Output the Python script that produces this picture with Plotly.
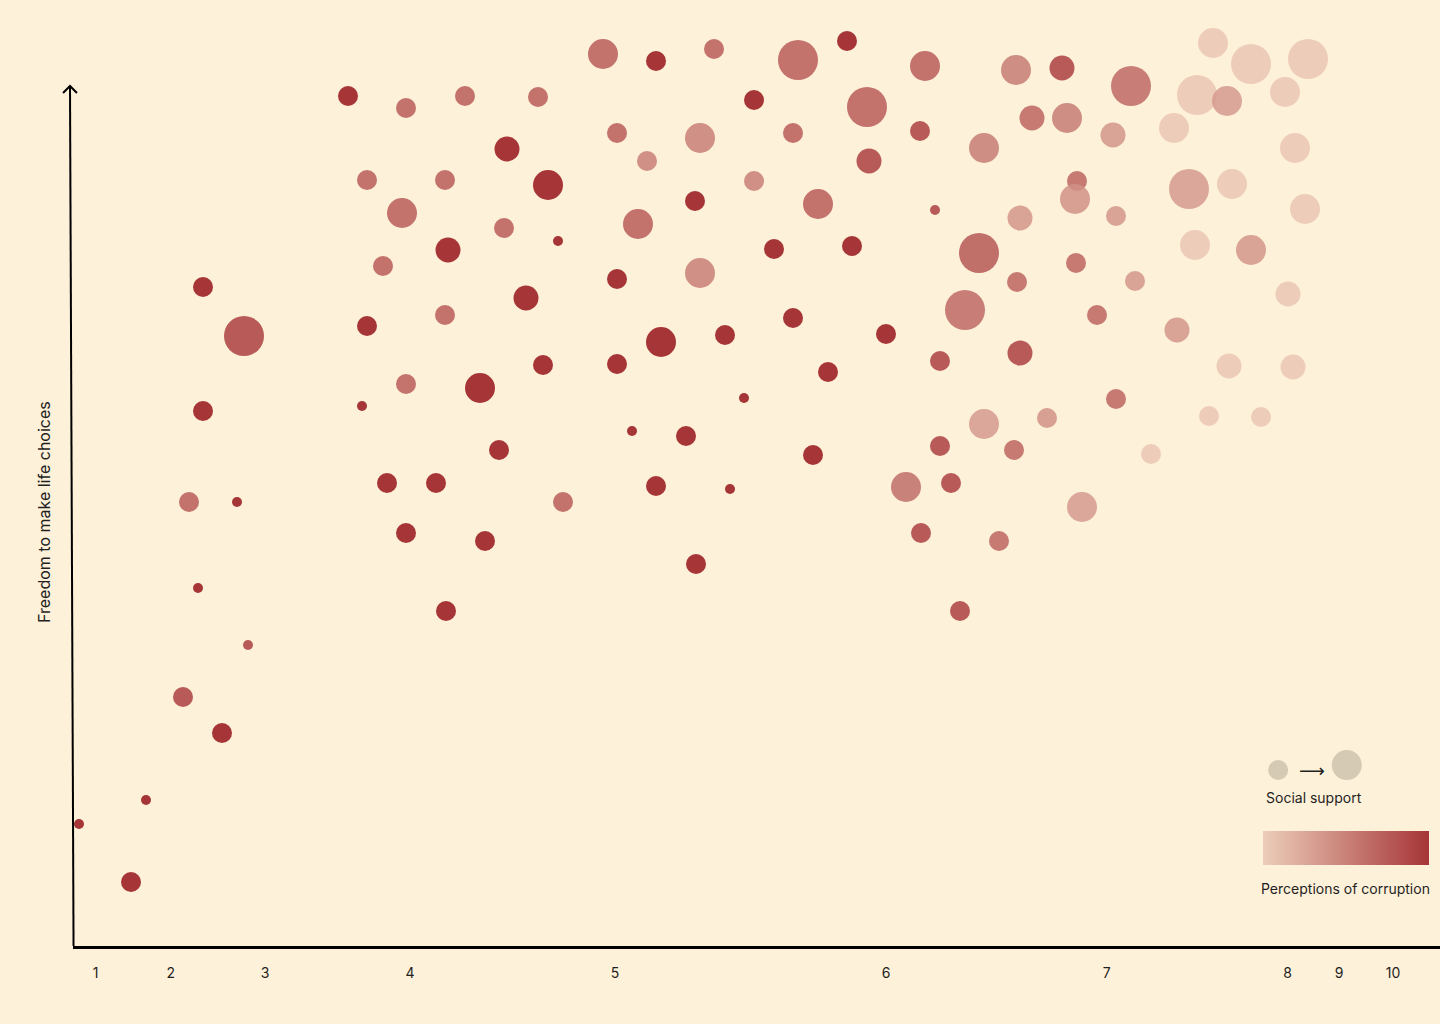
import plotly.graph_objects as go

# ---------------- data ----------------
# position along the horizontal axis (axis units)
x_pos = [34.8, 40.6, 46.5, 50.7, 36.7, 44.5, 40.2, 50.4, 44.8, 38.3, 52.6, 20.3, 24.4, 36.7, 44.5, 40.6, 48.0,
         36.2, 20.3, 49.9, 38.7, 43.6, 18.9, 23.7, 40.6, 48.5, 19.8, 44.6, 24.8, 18.3, 22.2, 14.6, 7.9, 13.1,
         60.3, 65.6, 71.4, 79.8, 84.7, 92.5, 53.8, 75.4, 86.7, 61.7, 70.0, 79.3, 92.0, 64.7, 86.9, 54.8, 75.4,
         69.5, 81.8, 93.5, 63.8, 55.8, 77.4, 85.2, 61.7, 70.0, 79.3, 66.1, 72.5, 88.6, 94.0, 54.3, 61.7, 82.8,
         74.4, 63.2, 68.6, 81.3, 94.0, 65.6, 73.0, 56.3, 90.6, 95.1, 92.1, 69.6, 96.0,
         102.0, 122.9, 129.3, 111.6, 120.9, 126.1, 98.4, 104.7, 101.4, 115.1, 108.2, 99.9,
         121.3, 125.1, 130.8, 101.6, 106.2, 113.1, 119.7, 122.7, 128.5, 103.2, 106.7, 111.3, 117.4, 98.4,
         129.5, 107.7, 107.5, 118.9, 123.2, 130.5, 102.0, 111.6, 97.9, 119.5, 125.1, 101.7, 107.6, 113.5,
         128.8, 96.5, 109.7, 117.7]

# freedom to make life choices (axis units)
freedom = [84.9, 83.7, 84.9, 79.6, 76.5, 76.5, 73.2, 71.7, 69.5, 67.9, 64.7, 65.8, 60.9, 61.9, 63.0, 56.1, 55.7,
           53.9, 53.4, 49.5, 46.2, 46.2, 44.3, 44.3, 41.2, 40.4, 35.7, 33.4, 30.0, 24.8, 21.2, 14.5, 12.1, 6.3,
           89.1, 88.4, 89.6, 88.5, 90.4, 87.9, 84.8, 84.5, 83.8, 81.2, 80.7, 81.2, 81.4, 78.4, 78.4, 76.0, 76.4,
           74.4, 74.1, 73.5, 72.1, 70.4, 69.6, 69.9, 66.6, 67.2, 62.7, 60.3, 61.0, 61.1, 58.4, 58.0, 58.1, 57.3,
           54.7, 51.4, 50.9, 49.0, 49.9, 45.9, 45.6, 44.3, 45.8, 46.2, 41.2, 38.1, 33.4,
           59.2, 57.9, 57.8, 54.6, 52.9, 52.8, 52.1, 52.7, 49.5, 49.1, 43.8, 40.4,
           90.2, 88.1, 88.6, 87.5, 87.7, 85.9, 85.0, 84.4, 85.3, 82.7, 82.7, 81.0, 81.7, 79.7,
           79.7, 76.4, 74.6, 75.6, 76.1, 73.6, 72.7, 72.9, 69.2, 70.0, 69.5, 66.3, 68.2, 66.4,
           65.1, 63.5, 63.0, 61.5]

social_support = [0.6, 0.6, 0.6, 0.7, 0.6, 0.6, 0.8, 0.6, 0.7, 0.6, 0.7, 0.6, 1.0, 0.6, 0.6, 0.6, 0.8,
                  0.4, 0.6, 0.6, 0.6, 0.6, 0.6, 0.4, 0.6, 0.6, 0.4, 0.6, 0.4, 0.6, 0.6, 0.4, 0.4, 0.6,
                  0.8, 0.6, 0.6, 1.0, 0.6, 0.8, 0.6, 0.6, 1.0, 0.6, 0.8, 0.6, 0.6, 0.6, 0.7, 0.8, 0.6,
                  0.6, 0.8, 0.4, 0.8, 0.4, 0.6, 0.6, 0.6, 0.8, 0.6, 0.8, 0.6, 0.6, 0.6, 0.6, 0.6, 0.6,
                  0.4, 0.4, 0.6, 0.6, 0.6, 0.6, 0.4, 0.6, 0.8, 0.6, 0.6, 0.6, 0.6,
                  0.7, 0.7, 0.7, 0.6, 0.6, 0.6, 0.8, 0.6, 0.6, 0.6, 0.8, 0.6,
                  0.8, 1.0, 1.0, 0.8, 0.7, 1.0, 1.0, 0.8, 0.8, 0.7, 0.8, 0.7, 0.8, 0.8,
                  0.8, 0.6, 0.8, 1.0, 0.8, 0.8, 0.7, 0.6, 1.0, 0.8, 0.8, 0.6, 0.6, 0.6,
                  0.7, 1.0, 0.6, 0.7]

corruption = [1.0, 0.6, 0.6, 1.0, 0.6, 0.6, 0.6, 0.6, 1.0, 0.6, 1.0, 1.0, 0.75, 1.0, 0.6, 0.6, 1.0,
              1.0, 1.0, 1.0, 1.0, 1.0, 0.6, 1.0, 1.0, 1.0, 1.0, 1.0, 0.75, 0.75, 1.0, 1.0, 1.0, 1.0,
              0.6, 1.0, 0.6, 0.6, 1.0, 0.6, 0.6, 1.0, 0.6, 0.6, 0.4, 0.6, 0.75, 0.4, 0.75, 1.0, 0.4,
              1.0, 0.6, 0.75, 0.6, 1.0, 1.0, 1.0, 1.0, 0.4, 1.0, 1.0, 1.0, 1.0, 0.75, 1.0, 1.0, 1.0,
              1.0, 1.0, 1.0, 1.0, 0.75, 1.0, 1.0, 0.6, 0.5, 0.75, 0.75, 1.0, 0.75,
              0.75, 0.0, 0.0, 0.55, 0.0, 0.0, 0.25, 0.3, 0.55, 0.0, 0.25, 0.55,
              0.0, 0.0, 0.0, 0.42, 0.75, 0.52, 0.0, 0.25, 0.0, 0.55, 0.42, 0.28, 0.0, 0.42,
              0.0, 0.55, 0.3, 0.25, 0.0, 0.0, 0.28, 0.28, 0.62, 0.0, 0.28, 0.55, 0.55, 0.28,
              0.0, 0.52, 0.55, 0.28]

tick_labels = ["1", "2", "3", "4", "5", "6", "7", "8", "9", "10"]
tick_positions = [9.57, 17.07, 26.5, 41.0, 61.5, 88.6, 110.67, 128.77, 133.9, 139.3]

legend_support = [0.6, 0.8]   # small -> large example in the size legend

# ---------------- styling ----------------
BG = "#FEF1D9"
FONT = "Inter, 'Open Sans', sans-serif"
TEXT = "#1f1f1f"
ALPHA = 0.85
colorscale = [[0.0, f"rgba(234,199,180,{ALPHA})"], [1.0, f"rgba(150,20,26,{ALPHA})"]]


def diameter(s):
    return 10 + (s - 0.4) * 50


fig = go.Figure()

fig.add_trace(go.Scatter(
    x=x_pos, y=freedom, mode="markers",
    marker=dict(
        size=[diameter(s) for s in social_support],
        sizemode="diameter",
        opacity=1,
        color=corruption, cmin=0, cmax=1,
        colorscale=colorscale,
        line=dict(width=0),
        showscale=True,
        colorbar=dict(
            orientation="h",
            x=0.9312, xanchor="center", xref="paper",
            y=0.1036, yanchor="middle", yref="paper",
            len=166, lenmode="pixels",
            thickness=34, thicknessmode="pixels",
            xpad=0, ypad=0,
            outlinewidth=0,
            ticks="", showticklabels=False,
        ),
    ),
    hoverinfo="skip",
    showlegend=False,
))

# size legend circles on an invisible overlay axis
fig.add_trace(go.Scatter(
    x=[0.8816, 0.9318], y=[0.1860, 0.1913], mode="markers",
    xaxis="x2", yaxis="y2",
    marker=dict(size=[diameter(s) for s in legend_support], sizemode="diameter",
                opacity=1, color="#D5CAB4", line=dict(width=0)),
    hoverinfo="skip", showlegend=False,
))

fig.update_layout(
    width=1440, height=1024,
    paper_bgcolor=BG, plot_bgcolor=BG,
    margin=dict(l=73, r=0, t=0, b=78),
    font=dict(family=FONT, size=14, color=TEXT),
    xaxis=dict(
        range=[7.3, 144.0], showgrid=False, zeroline=False,
        showline=True, linewidth=3, linecolor="#000000",
        tickmode="array", tickvals=tick_positions, ticktext=tick_labels,
        ticks="", ticklabelstandoff=12,
        tickfont=dict(family=FONT, size=14, color=TEXT),
        fixedrange=True,
    ),
    yaxis=dict(
        range=[-0.1, 94.5], showgrid=False, zeroline=False,
        showline=False, showticklabels=False, ticks="", fixedrange=True,
    ),
    xaxis2=dict(range=[0, 1], overlaying="x", anchor="y2", visible=False, fixedrange=True),
    yaxis2=dict(range=[0, 1], overlaying="y", anchor="x2", visible=False, fixedrange=True),
    shapes=[
        # slanted vertical axis line
        dict(type="line", xref="paper", yref="paper", x0=0.0004, y0=0.0, x1=-0.0022, y1=0.9091,
             line=dict(color="#000000", width=2)),
        # arrow head
        dict(type="path", xref="paper", yref="paper",
             path="M -0.0073 0.9017 L -0.0022 0.9091 L 0.0029 0.9017",
             line=dict(color="#000000", width=2)),
    ],
    annotations=[
        dict(text="Freedom to make life choices", xref="paper", yref="paper",
             x=-0.0212, y=0.4588, textangle=-90, showarrow=False,
             xanchor="center", yanchor="middle", font=dict(size=16, color=TEXT, family=FONT)),
        dict(text="⟶", xref="paper", yref="paper", x=0.9067, y=0.1860, showarrow=False,
             xanchor="center", yanchor="middle", font=dict(size=18, color=TEXT, family="DejaVu Sans")),
        dict(text="Social support", xref="paper", yref="paper", x=0.9078, y=0.1575, showarrow=False,
             xanchor="center", yanchor="middle", font=dict(size=14, color=TEXT, family=FONT)),
        dict(text="Perceptions of corruption", xref="paper", yref="paper", x=0.9312, y=0.0603,
             showarrow=False, xanchor="center", yanchor="middle",
             font=dict(size=14, color=TEXT, family=FONT)),
    ],
)

fig.write_html(
    "out.html",
    config={"displayModeBar": False, "staticPlot": False},
    post_script="document.body.style.margin='0';document.body.style.overflow='hidden';"
                "document.documentElement.style.background='" + BG + "';",
)
